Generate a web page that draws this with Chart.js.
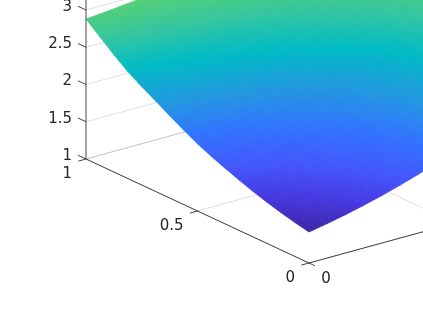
<!DOCTYPE html>
<html>
<head>
<meta charset="utf-8">
<style>
html, body { margin: 0; padding: 0; background: #fff; }
canvas { display: block; }
</style>
<script src="https://cdn.jsdelivr.net/npm/chart.js@4"></script>
</head>
<body>
<canvas id="surfaceChart" width="423" height="317"></canvas>
<script>
const xGrid = [0, 0.0625, 0.125, 0.1875, 0.25, 0.3125, 0.375, 0.4375, 0.5, 0.5625, 0.625, 0.6875, 0.75, 0.8125, 0.875, 0.9375, 1]
const yGrid = [0, 0.0625, 0.125, 0.1875, 0.25, 0.3125, 0.375, 0.4375, 0.5, 0.625, 0.75, 0.875, 1]

// one row per xGrid value, one column per yGrid value
const zRows = [
    [1.416, 1.463, 1.515, 1.574, 1.639, 1.711, 1.790, 1.877, 1.972, 2.188, 2.441, 2.732, 3.066],
    [1.455, 1.500, 1.550, 1.606, 1.668, 1.737, 1.813, 1.896, 1.987, 2.193, 2.435, 2.714, 3.033],
    [1.500, 1.542, 1.590, 1.644, 1.703, 1.769, 1.841, 1.921, 2.008, 2.205, 2.435, 2.701, 3.006],
    [1.552, 1.592, 1.638, 1.689, 1.746, 1.808, 1.877, 1.953, 2.035, 2.223, 2.442, 2.695, 2.986],
    [1.610, 1.648, 1.692, 1.740, 1.794, 1.853, 1.919, 1.991, 2.069, 2.247, 2.456, 2.697, 2.972],
    [1.675, 1.711, 1.752, 1.798, 1.849, 1.906, 1.968, 2.036, 2.110, 2.279, 2.477, 2.705, 2.967],
    [1.745, 1.779, 1.818, 1.862, 1.910, 1.963, 2.022, 2.086, 2.157, 2.317, 2.503, 2.719, 2.967],
    [1.820, 1.853, 1.889, 1.930, 1.976, 2.026, 2.082, 2.143, 2.209, 2.360, 2.536, 2.740, 2.974],
    [1.902, 1.933, 1.967, 2.006, 2.049, 2.096, 2.149, 2.206, 2.269, 2.411, 2.578, 2.770, 2.990],
    [2.000, 2.029, 2.061, 2.098, 2.138, 2.183, 2.232, 2.287, 2.346, 2.480, 2.637, 2.818, 3.025],
    [2.105, 2.132, 2.163, 2.197, 2.236, 2.278, 2.324, 2.375, 2.431, 2.557, 2.705, 2.876, 3.072],
    [2.215, 2.241, 2.270, 2.302, 2.338, 2.378, 2.422, 2.470, 2.522, 2.641, 2.781, 2.942, 3.126],
    [2.320, 2.344, 2.372, 2.402, 2.436, 2.474, 2.516, 2.561, 2.611, 2.723, 2.855, 3.008, 3.182],
    [2.435, 2.458, 2.484, 2.513, 2.546, 2.581, 2.621, 2.664, 2.711, 2.818, 2.943, 3.088, 3.254],
    [2.575, 2.597, 2.622, 2.650, 2.681, 2.715, 2.753, 2.794, 2.840, 2.942, 3.062, 3.201, 3.359],
    [2.725, 2.746, 2.771, 2.798, 2.828, 2.861, 2.897, 2.937, 2.981, 3.080, 3.197, 3.331, 3.485],
    [2.880, 2.901, 2.925, 2.951, 2.980, 3.013, 3.048, 3.088, 3.130, 3.227, 3.341, 3.472, 3.623]
]

const xTicks = [0, 0.5, 1]
const yTicks = [0, 0.5, 1]
const zTicks = [1, 1.5, 2, 2.5, 3]

const colorZ = [1.416, 1.58, 1.74, 1.956, 2.18, 2.45, 2.7, 2.88, 2.95, 3.7]
const colorRgb = ['#3e26a8', '#4639e0', '#4455fa', '#3273ff', '#2396e1', '#00bbc4', '#35c6a0', '#4ccd80', '#58cf74', '#e0d030']

// view of the 3d box, in canvas pixels
function project(x, y, z) {
    return {
        x: 309 - 223 * x + 292 * y,
        y: 263 - 104 * x - 80 * y - 74.5 * (z - 1)
    }
}

function lineSet(a, b, color, width, order) {
    return {
        data: [project(a[0], a[1], a[2]), project(b[0], b[1], b[2])],
        showLine: true,
        pointRadius: 0,
        borderColor: color,
        borderWidth: width,
        fill: false,
        order: order
    }
}

// gradient that follows z across one flat triangle of the surface
function triangleGradient(chart, corners) {
    if (!chart.chartArea) return 'transparent'
    const p = corners.map(c => ({
        x: chart.scales.x.getPixelForValue(c.x),
        y: chart.scales.y.getPixelForValue(c.y),
        z: c.z
    }))
    const ux = p[1].x - p[0].x, uy = p[1].y - p[0].y, uz = p[1].z - p[0].z
    const vx = p[2].x - p[0].x, vy = p[2].y - p[0].y, vz = p[2].z - p[0].z
    const det = ux * vy - uy * vx
    const gx = (uz * vy - vz * uy) / det
    const gy = (vz * ux - uz * vx) / det
    const len = gx * gx + gy * gy
    const zLow = colorZ[0]
    const zHigh = colorZ[colorZ.length - 1]
    const gradient = chart.ctx.createLinearGradient(
        p[0].x + gx * (zLow - p[0].z) / len, p[0].y + gy * (zLow - p[0].z) / len,
        p[0].x + gx * (zHigh - p[0].z) / len, p[0].y + gy * (zHigh - p[0].z) / len
    )
    for (let i = 0; i < colorZ.length; i++) {
        gradient.addColorStop((colorZ[i] - zLow) / (zHigh - zLow), colorRgb[i])
    }
    return gradient
}

function triangleSet(corners) {
    const points = corners.map(c => project(c[0], c[1], c[2]))
    const withZ = points.map((p, i) => ({ x: p.x, y: p.y, z: corners[i][2] }))
    const paint = context => triangleGradient(context.chart, withZ)
    return {
        data: [points[0], points[1], points[2], points[0]],
        showLine: true,
        pointRadius: 0,
        borderWidth: 0.8,
        borderColor: paint,
        backgroundColor: paint,
        fill: 'shape',
        order: 5
    }
}

const datasets = []
const gridColor = 'rgba(38, 38, 38, 0.15)'
const axisColor = 'rgba(38, 38, 38, 0.85)'

// grid on the floor and on the back wall
for (const x of xTicks) datasets.push(lineSet([x, 0, 1], [x, 1, 1], gridColor, 1, 10))
for (const y of yTicks) datasets.push(lineSet([0, y, 1], [1, y, 1], gridColor, 1, 10))
for (const z of zTicks) datasets.push(lineSet([1, 0, z], [1, 1, z], gridColor, 1, 10))

for (let i = 0; i < xGrid.length - 1; i++) {
    for (let j = 0; j < yGrid.length - 1; j++) {
        const a = [xGrid[i], yGrid[j], zRows[i][j]]
        const b = [xGrid[i + 1], yGrid[j], zRows[i + 1][j]]
        const c = [xGrid[i + 1], yGrid[j + 1], zRows[i + 1][j + 1]]
        const d = [xGrid[i], yGrid[j + 1], zRows[i][j + 1]]
        datasets.push(triangleSet([a, b, c]))
        datasets.push(triangleSet([a, c, d]))
    }
}

// axis lines and ticks
datasets.push(lineSet([0, 0, 1], [1, 0, 1], axisColor, 1, 1))
datasets.push(lineSet([0, 0, 1], [0, 1, 1], axisColor, 1, 1))
datasets.push(lineSet([1, 0, 1], [1, 0, 4], axisColor, 1, 1))
for (const z of zTicks) datasets.push(lineSet([1, 0, z], [1.036, 0, z], axisColor, 1, 1))
for (const x of xTicks) datasets.push(lineSet([x, 0, 1], [x, -0.026, 1], axisColor, 1, 1))
for (const y of yTicks) datasets.push(lineSet([0, y, 1], [-0.027, y, 1], axisColor, 1, 1))

const tickLabels = {
    id: 'tickLabels',
    afterDraw(chart) {
        const ctx = chart.ctx
        const place = (text, p, dx, dy, align) => {
            ctx.textAlign = align
            ctx.fillText(text, chart.scales.x.getPixelForValue(p.x) + dx, chart.scales.y.getPixelForValue(p.y) + dy)
        }
        ctx.save()
        ctx.font = '15px "DejaVu Sans"'
        ctx.fillStyle = '#262626'
        ctx.textBaseline = 'middle'
        for (const z of zTicks) place(String(z), project(1, 0, z), -14, -3, 'right')
        for (const x of xTicks) place(String(x), project(x, 0, 1), -14, 15, 'right')
        place(String(yTicks[0]), project(0, yTicks[0], 1), 17, 16, 'center')
        ctx.restore()
    }
}

new Chart(document.getElementById('surfaceChart').getContext('2d'), {
    type: 'scatter',
    data: { datasets: datasets },
    options: {
        responsive: false,
        animation: false,
        events: [],
        layout: { padding: 0 },
        elements: { line: { tension: 0 } },
        plugins: { legend: { display: false }, tooltip: { enabled: false } },
        scales: {
            x: { type: 'linear', min: 0, max: 423, display: false },
            y: { type: 'linear', min: 0, max: 317, reverse: true, display: false }
        }
    },
    plugins: [tickLabels]
})
</script>
</body>
</html>
